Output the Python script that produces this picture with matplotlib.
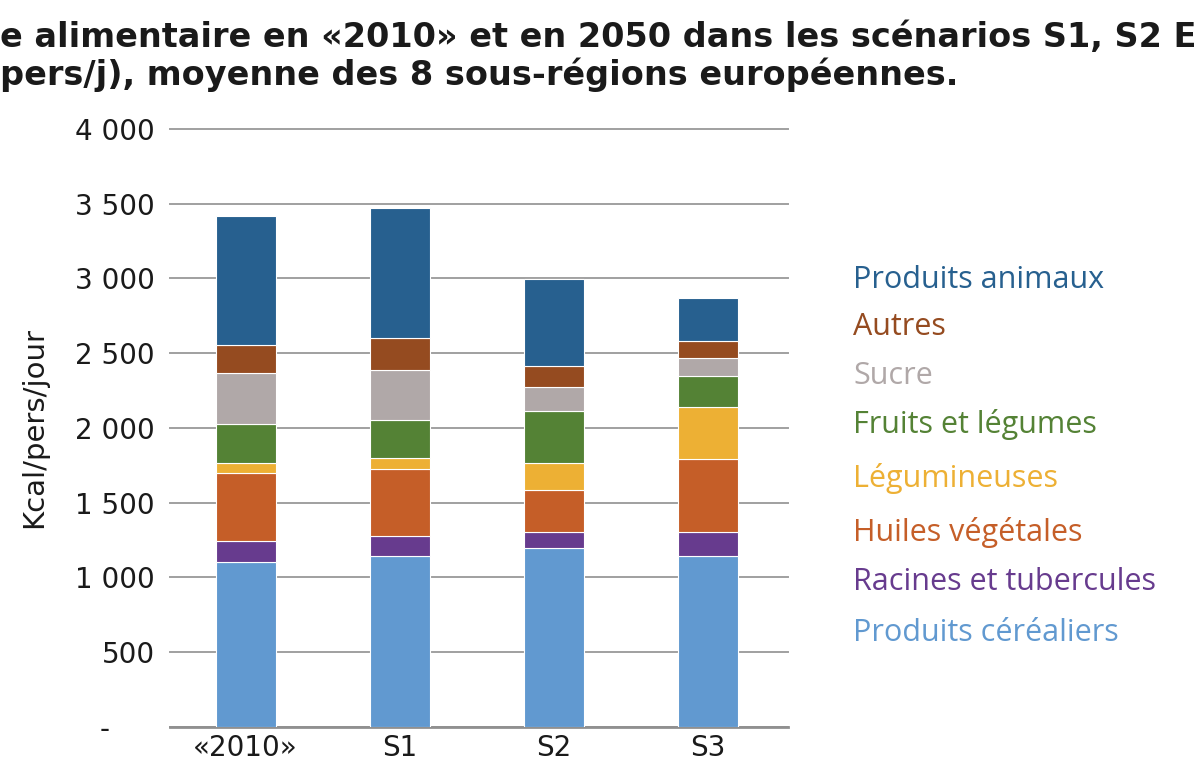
import matplotlib
matplotlib.use("Agg")
import matplotlib.pyplot as plt
import numpy as np

# categories and stacked series (kcal/pers/jour)
scenarios = ["«2010»", "S1", "S2", "S3"]
series_names = ["Produits céréaliers", "Racines et tubercules", "Huiles végétales",
                "Légumineuses", "Fruits et légumes", "Sucre", "Autres", "Produits animaux"]
cereales = [1105, 1143, 1200, 1141]
racines = [142, 134, 105, 160]
huiles = [451, 450, 279, 494]
legumineuses = [66, 73, 180, 348]
fruits = [263, 255, 352, 205]
sucre = [343, 334, 157, 123]
autres = [187, 215, 141, 108]
animaux = [863, 870, 582, 291]
yticks = [0, 500, 1000, 1500, 2000, 2500, 3000, 3500, 4000]
ytick_labels = ["-     ", "500", "1 000", "1 500", "2 000", "2 500", "3 000", "3 500", "4 000"]
title_lines = ["e alimentaire en «2010» et en 2050 dans les scénarios S1, S2 E",
               "pers/j), moyenne des 8 sous-régions européennes."]

colors = ["#6199D0", "#673B8E", "#C55E28", "#EDB034", "#548235", "#B0A8A8", "#954B20", "#27608F"]
values = [cereales, racines, huiles, legumineuses, fruits, sucre, autres, animaux]

plt.rcParams['font.family'] = ['DejaVu Sans']

fig = plt.figure(figsize=(12, 7.65), dpi=100)
ax = fig.add_axes([0.1417, 0.0497, 0.515, 0.7817])

x = np.arange(len(scenarios))
bottom = np.zeros(len(scenarios))
for name, vals, col in zip(series_names, values, colors):
    ax.bar(x, vals, width=0.39, bottom=bottom, color=col, edgecolor="white",
           linewidth=0.8, label=name, zorder=3)
    bottom += np.array(vals)

ax.set_xlim(-0.49, 3.52)
ax.set_ylim(0, 4000)
ax.set_yticks(yticks)
ax.set_yticklabels(ytick_labels, fontsize=20, color="#1a1a1a")
ax.set_xticks(x)
ax.set_xticklabels(scenarios, fontsize=20, color="#1a1a1a")
ax.tick_params(axis="y", length=0, pad=11)
ax.tick_params(axis="x", length=0, pad=5)
ax.grid(axis="y", color="#a0a0a0", linewidth=1.4, zorder=0)
for gl in ax.get_ygridlines():
    gl.set_clip_on(False)
for side in ["top", "right", "left"]:
    ax.spines[side].set_visible(False)
ax.spines["bottom"].set_color("#909090")
ax.spines["bottom"].set_linewidth(2)
ax.set_ylabel("Kcal/pers/jour", fontsize=21, color="#1a1a1a")
ax.yaxis.set_label_coords(-0.197, 0.5)

# legend as coloured text, top entry first
legend_font = ['Open Sans', 'DejaVu Sans']
legend_y = [280, 327, 376, 425, 478, 532, 582, 633]
for name, col, yy in zip(series_names[::-1], colors[::-1], legend_y):
    fig.text(853 / 1200, 1 - yy / 765, name, color=col, fontsize=22, va="center",
             ha="left", family=legend_font, fontweight="medium")

# title lines, sized so the first line spans the figure width
t1 = fig.text(0.0, 1 - 47 / 765, title_lines[0], fontsize=27, fontweight="bold",
              color="#1a1a1a", va="baseline")
t2 = fig.text(0.0, 1 - 85 / 765, title_lines[1], fontsize=27, fontweight="bold",
              color="#1a1a1a", va="baseline")
fig.canvas.draw()
w = t1.get_window_extent().width
size = 27 * 1195 / w
t1.set_fontsize(size)
t2.set_fontsize(size)

fig.savefig("out.png", dpi=100)
